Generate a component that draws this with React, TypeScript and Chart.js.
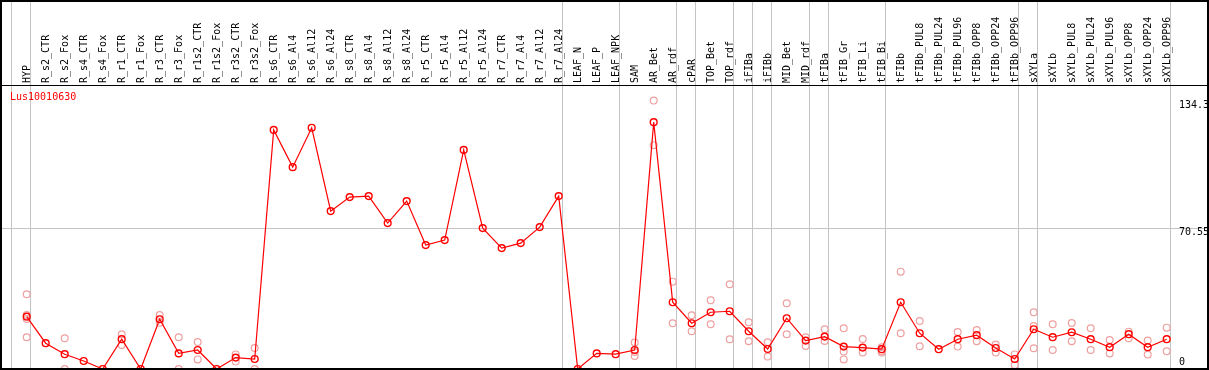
import React, { useEffect, useRef } from "react";
import { Chart, registerables } from "chart.js";

Chart.register(...registerables);

const geneName = "Lus10010630";

const categories = [
  "HYP", "R_s2_CTR", "R_s2_Fox", "R_s4_CTR", "R_s4_Fox", "R_r1_CTR", "R_r1_Fox", "R_r3_CTR", "R_r3_Fox",
  "R_r1s2_CTR", "R_r1s2_Fox", "R_r3s2_CTR", "R_r3s2_Fox",
  "R_s6_CTR", "R_s6_Al4", "R_s6_Al12", "R_s6_Al24",
  "R_s8_CTR", "R_s8_Al4", "R_s8_Al12", "R_s8_Al24",
  "R_r5_CTR", "R_r5_Al4", "R_r5_Al12", "R_r5_Al24",
  "R_r7_CTR", "R_r7_Al4", "R_r7_Al12", "R_r7_Al24",
  "LEAF_N", "LEAF_P", "LEAF_NPK", "SAM", "AR_Bet", "AR_rdf", "cPAR", "TOP_Bet", "TOP_rdf",
  "iFIBa", "iFIBb", "MID_Bet", "MID_rdf", "tFIBa", "tFIB_Gr", "tFIB_Li", "tFIB_Bi", "tFIBb",
  "tFIBb_PUL8", "tFIBb_PUL24", "tFIBb_PUL96", "tFIBb_OPP8", "tFIBb_OPP24", "tFIBb_OPP96",
  "sXYLa", "sXYLb", "sXYLb_PUL8", "sXYLb_PUL24", "sXYLb_PUL96", "sXYLb_OPP8", "sXYLb_OPP24", "sXYLb_OPP96",
];

const meanValues = [
  26.2, 12.9, 7.4, 4.0, 0, 14.9, 0, 24.9, 7.8,
  9.5, 0, 5.7, 5.0,
  119.6, 101.0, 120.7, 79.0,
  86.0, 86.5, 73.0, 84.0,
  62.0, 64.5, 109.6, 70.5,
  60.5, 63.0, 71.0, 86.5,
  0, 7.8, 7.4, 9.5, 123.5, 33.4, 22.9, 28.4, 28.9,
  18.9, 10.0, 25.4, 14.2, 16.2, 11.2, 10.7, 9.9, 33.4,
  17.9, 9.9, 14.9, 16.9, 10.5, 5.0,
  19.9, 15.9, 18.4, 14.9, 10.9, 17.4, 10.9, 14.9,
];

const replicateValues: number[][] = [
  [37.4, 27.0, 25.0, 15.9], [], [15.4, 0], [], [], [17.4, 12.0], [], [27.0, 23.2], [15.9, 0],
  [13.5, 4.8], [], [7.3, 3.7], [10.5, 0],
  [], [], [], [],
  [], [], [], [],
  [], [], [], [],
  [], [], [], [],
  [], [], [], [13.2, 8.5, 6.5], [134.3, 112.0], [43.7, 22.9], [26.9, 18.9], [34.4, 22.4], [42.4, 14.9],
  [23.4, 13.9], [13.4, 6.2], [32.9, 17.4], [15.9, 11.5], [19.9, 14.0], [20.4, 8.7, 4.8], [15.0, 8.3], [10.9, 9.0, 8.3], [48.7, 17.9],
  [24.0, 11.4], [], [18.5, 11.2], [19.5, 13.9], [12.2, 8.3], [7.3, 2.0],
  [28.4, 21.5, 10.4], [22.4, 9.5], [23.0, 13.9], [20.4, 9.5], [14.5, 7.8], [18.7, 15.4], [14.2, 7.2], [20.7, 8.9],
];

// group separators: a gray line is drawn after each of these category indices
const groupEnds = [-1, 0, 28, 31, 34, 35, 37, 38, 39, 41, 42, 45, 52, 53, 60];

const yTickValues = [0, 70.55, 134.3];
const yTickLabels = ["0", "70.55", "134.3"];

const FONT = '10px "DejaVu Sans Mono", "Liberation Mono", monospace';

const decorPlugin = {
  id: "decor",
  beforeDatasetsDraw(chart: any) {
    const ctx = chart.ctx as CanvasRenderingContext2D;
    const xs = chart.scales.x;
    const ys = chart.scales.y;
    ctx.save();
    ctx.fillStyle = "#c4c4c4";
    for (const b of groupEnds) {
      const px = xs.getPixelForValue(b + 0.195);
      ctx.fillRect(Math.floor(px), 0, 1, 369);
    }
    for (let i = 1; i < yTickValues.length - 1; i++) {
      const py = Math.round(ys.getPixelForValue(yTickValues[i]));
      ctx.fillRect(2, py, 1205, 1);
    }
    ctx.restore();
  },
  afterDatasetsDraw(chart: any) {
    const ctx = chart.ctx as CanvasRenderingContext2D;
    const xs = chart.scales.x;
    const ys = chart.scales.y;
    ctx.save();
    // frame
    ctx.fillStyle = "#000000";
    ctx.fillRect(0, 0, 1209, 2);
    ctx.fillRect(0, 0, 2, 370);
    ctx.fillRect(1207, 0, 2, 370);
    ctx.fillRect(0, 368, 1209, 2);
    ctx.fillRect(0, 85, 1208, 1);

    ctx.font = FONT;
    // column labels
    ctx.fillStyle = "#000000";
    ctx.textAlign = "left";
    ctx.textBaseline = "middle";
    categories.forEach((lab, i) => {
      const px = xs.getPixelForValue(i);
      ctx.save();
      ctx.translate(px + 0.5, 83);
      ctx.rotate(-Math.PI / 2);
      ctx.fillText(lab, 0, 0);
      ctx.restore();
    });

    // y tick labels
    ctx.textAlign = "left";
    yTickValues.forEach((v, i) => {
      const py = ys.getPixelForValue(v);
      if (i === 0) {
        ctx.textBaseline = "bottom";
        ctx.fillText(yTickLabels[i], 1179, py - 2);
      } else {
        ctx.textBaseline = "top";
        ctx.fillText(yTickLabels[i], 1179, py - 0.5);
      }
    });

    // gene name
    ctx.fillStyle = "#ff0000";
    ctx.textBaseline = "top";
    ctx.fillText(geneName, 10, 92);
    ctx.restore();
  },
};

export default function App() {
  const canvasRef = useRef<HTMLCanvasElement | null>(null);

  useEffect(() => {
    document.body.style.margin = "0";
    const canvas = canvasRef.current;
    if (!canvas) return;

    const meanPoints = meanValues.map((v, i) => ({ x: i, y: v }));
    const repPoints: { x: number; y: number }[] = [];
    replicateValues.forEach((arr, i) => arr.forEach((v) => repPoints.push({ x: i, y: v })));

    const xMin = -25.7 / 19;
    const xMax = xMin + 1207 / 19;
    const yMax = 283 / 1.9986;

    const chart = new Chart(canvas, {
      type: "scatter",
      data: {
        datasets: [
          {
            data: meanPoints,
            showLine: true,
            borderColor: "#ff0000",
            borderWidth: 1.2,
            pointStyle: "circle",
            pointRadius: 3.4,
            pointBorderWidth: 1.4,
            pointBorderColor: "#ff0000",
            pointBackgroundColor: "rgba(0,0,0,0)",
            tension: 0,
            clip: 0,
          } as any,
          {
            data: repPoints,
            showLine: false,
            pointStyle: "circle",
            pointRadius: 3.4,
            pointBorderWidth: 1.2,
            pointBorderColor: "#eea0a0",
            pointBackgroundColor: "rgba(0,0,0,0)",
            clip: 0,
          } as any,
        ],
      },
      options: {
        animation: false,
        responsive: false,
        events: [],
        layout: { autoPadding: false, padding: { top: 86, bottom: 1, left: 1, right: 1 } },
        plugins: {
          legend: { display: false },
          tooltip: { enabled: false },
        },
        scales: {
          x: { type: "linear", min: xMin, max: xMax, display: false },
          y: { type: "linear", min: 0, max: yMax, display: false },
        },
      } as any,
      plugins: [decorPlugin],
    });

    return () => {
      chart.destroy();
    };
  }, []);

  return (
    <div style={{ width: 1209, height: 370, position: "relative", background: "#ffffff" }}>
      <canvas ref={canvasRef} width={1209} height={370} style={{ width: 1209, height: 370, display: "block" }} />
    </div>
  );
}
